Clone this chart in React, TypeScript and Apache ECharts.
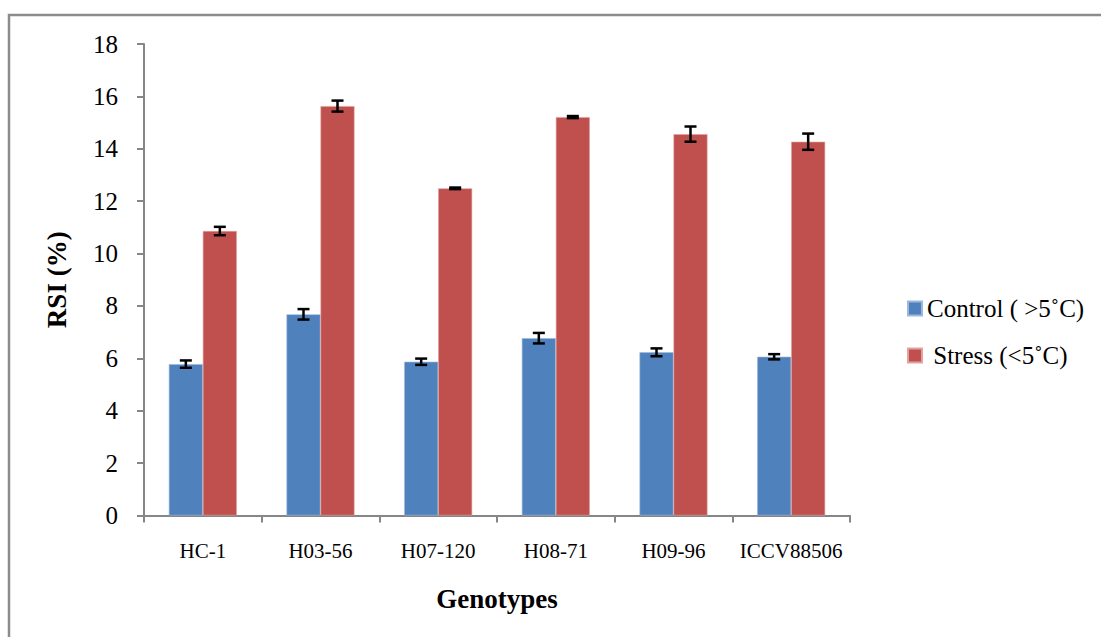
import React, { useEffect, useRef } from "react";
import * as echarts from "echarts";

const categories = ["HC-1", "H03-56", "H07-120", "H08-71", "H09-96", "ICCV88506"];
const controlValues = [5.78, 7.68, 5.87, 6.77, 6.23, 6.06];
const controlErrors = [0.14, 0.2, 0.12, 0.2, 0.15, 0.1];
const stressValues = [10.86, 15.63, 12.49, 15.21, 14.56, 14.27];
const stressErrors = [0.16, 0.21, 0.03, 0.04, 0.29, 0.31];
const seriesNames = ["Control ( >5˚C)", " Stress (<5˚C)"];
const yTicks = { min: 0, max: 18, interval: 2 };

const FONT = "Liberation Serif";
const BAR_W = 34;

function errorSeries(values: number[], errors: number[], offset: number) {
  return {
    type: "custom",
    silent: true,
    z: 10,
    data: values.map((v, i) => [i, v, errors[i]]),
    renderItem: (params: any, api: any) => {
      const i = api.value(0);
      const v = api.value(1);
      const e = api.value(2);
      const top = api.coord([i, v + e]);
      const bot = api.coord([i, v - e]);
      const x = top[0] + offset;
      const cap = 6;
      const style = { stroke: "#000", lineWidth: 2.5 };
      return {
        type: "group",
        children: [
          { type: "line", shape: { x1: x, y1: top[1], x2: x, y2: bot[1] }, style },
          { type: "line", shape: { x1: x - cap, y1: top[1], x2: x + cap, y2: top[1] }, style },
          { type: "line", shape: { x1: x - cap, y1: bot[1], x2: x + cap, y2: bot[1] }, style },
        ],
      };
    },
  };
}

export default function App() {
  const ref = useRef<HTMLDivElement>(null);
  useEffect(() => {
    if (!ref.current) return;
    const chart = echarts.init(ref.current, null, { renderer: "svg" });
    chart.setOption({
      animation: false,
      textStyle: { fontFamily: FONT },
      graphic: [
        {
          type: "rect",
          shape: { x: 9, y: 15, width: 1200, height: 800 },
          style: { fill: "none", stroke: "#8c8c8c", lineWidth: 2.5 },
          silent: true,
        },
      ],
      legend: {
        data: seriesNames,
        orient: "vertical",
        left: 902,
        top: 291,
        itemWidth: 14,
        itemHeight: 14,
        itemGap: 22,
        icon: "rect",
        textStyle: { fontFamily: FONT, fontSize: 25, color: "#000" },
        selectedMode: false,
      },
      grid: { left: 144, right: 251, top: 44, bottom: 121.5, containLabel: false },
      xAxis: {
        type: "category",
        data: categories,
        name: "Genotypes",
        nameLocation: "middle",
        nameGap: 70,
        nameTextStyle: { fontFamily: FONT, fontSize: 27, fontWeight: "bold", color: "#000" },
        axisLine: { lineStyle: { color: "#868686", width: 2 } },
        axisTick: { show: true, interval: 0, length: 7, lineStyle: { color: "#868686", width: 2 } },
        axisLabel: { interval: 0, fontFamily: FONT, fontSize: 21, color: "#000", margin: 25, hideOverlap: false },
      },
      yAxis: {
        type: "value",
        min: yTicks.min,
        max: yTicks.max,
        interval: yTicks.interval,
        name: "RSI (%)",
        nameLocation: "middle",
        nameGap: 74,
        nameRotate: 90,
        nameTextStyle: { fontFamily: FONT, fontSize: 27, fontWeight: "bold", color: "#000" },
        axisLine: { show: true, lineStyle: { color: "#868686", width: 2 } },
        axisTick: { show: true, length: 7, lineStyle: { color: "#868686", width: 2 } },
        splitLine: { show: false },
        axisLabel: { fontFamily: FONT, fontSize: 25, color: "#000", margin: 26 },
      },
      series: [
        {
          name: seriesNames[0],
          type: "bar",
          data: controlValues,
          barWidth: BAR_W,
          barGap: "0%",
          itemStyle: { color: "#4F81BD", borderColor: "#9db8dc", borderWidth: 0.6 },
        },
        {
          name: seriesNames[1],
          type: "bar",
          data: stressValues,
          barWidth: BAR_W,
          barGap: "0%",
          itemStyle: { color: "#C0504D", borderColor: "#e0a3a1", borderWidth: 0.6 },
        },
        errorSeries(controlValues, controlErrors, -BAR_W / 2),
        errorSeries(stressValues, stressErrors, BAR_W / 2),
      ],
    });
    return () => chart.dispose();
  }, []);
  return <div ref={ref} style={{ width: 1101, height: 637, position: "absolute", left: 0, top: 0 }} />;
}
